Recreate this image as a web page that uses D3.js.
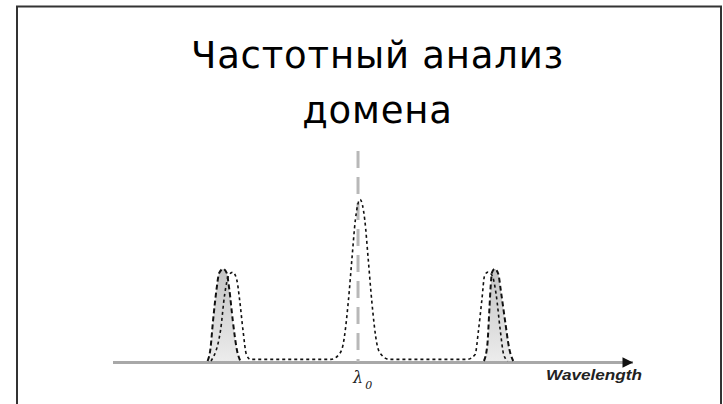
<!doctype html>
<html>
<head>
<meta charset="utf-8">
<style>
body { margin: 0; background: white; }
svg { display: block; }
</style>
<script src="https://cdnjs.cloudflare.com/ajax/libs/d3/7.8.5/d3.min.js"></script>
</head>
<body>
<div id="chart"></div>
<script>
// title lines
var titleLines = ["Частотный анализ", "домена"];
var axisLabel = "Wavelength";
var centerLabel = "λ";
var centerSub = "0";

// offset from λ0 (arb. units), relative intensity
var dottedSpectrum = [
  [-108, 0], [-101, 0.19], [-98, 0.41], [-95, 0.53], [-92, 0.55], [-89, 0.5], [-87, 0.38],
  [-84.5, 0.19], [-82, 0.04], [-79, 0.01],
  [-20, 0.01], [-14, 0.04], [-11, 0.1], [-7, 0.38], [-4.5, 0.63], [-2, 0.87], [1.5, 1.0],
  [5, 0.87], [7.5, 0.63], [10, 0.38], [14, 0.1], [17, 0.04], [23, 0.01],
  [80, 0.01], [86, 0.04], [88.5, 0.19], [91, 0.38], [93, 0.53], [95.5, 0.55], [98.5, 0.53],
  [101.5, 0.41], [104.5, 0.19], [107, 0.04], [110, 0]
];
var leftPeak = [
  [-110.5, 0], [-108.5, 0.07], [-106.5, 0.25], [-104, 0.44], [-102, 0.545], [-99, 0.57],
  [-96.5, 0.545], [-94.5, 0.44], [-92, 0.25], [-89, 0.07], [-86.5, 0]
];
var rightPeak = [
  [92.5, 0], [95, 0.1], [96.5, 0.32], [97.5, 0.47], [98.5, 0.55], [100.5, 0.57],
  [103, 0.54], [105, 0.43], [108, 0.25], [111, 0.08], [114, 0]
];
var xDomain = [-180, 202];
var yDomain = [0, 1.3];

var width = 723, height = 404;

var svg = d3.select("#chart").append("svg")
  .attr("width", width)
  .attr("height", height);

var defs = svg.append("defs");
var grad = defs.append("linearGradient")
  .attr("id", "peakFill")
  .attr("x1", 0).attr("y1", 0).attr("x2", 0).attr("y2", 1);
grad.append("stop").attr("offset", "0%").attr("stop-color", "#c4c4c4");
grad.append("stop").attr("offset", "100%").attr("stop-color", "#ececec");

defs.append("marker")
  .attr("id", "arrow")
  .attr("viewBox", "0 0 10 10")
  .attr("refX", 10).attr("refY", 5)
  .attr("markerWidth", 5).attr("markerHeight", 3.5)
  .attr("orient", "auto")
  .attr("markerUnits", "strokeWidth")
  .append("path")
  .attr("d", "M0,0 L10,5 L0,10 Z")
  .attr("fill", "#111");

// frame of the slide
svg.append("rect")
  .attr("x", 17).attr("y", 6.5)
  .attr("width", 704).attr("height", 420)
  .attr("fill", "none")
  .attr("stroke", "#333")
  .attr("stroke-width", 2);

// title
svg.selectAll(".title")
  .data(titleLines)
  .enter()
  .append("text")
  .attr("class", "title")
  .attr("x", 377.5)
  .attr("y", function (d, i) { return 68 + i * 55; })
  .attr("text-anchor", "middle")
  .attr("font-family", "DejaVu Sans, sans-serif")
  .attr("font-size", 37)
  .attr("letter-spacing", 0.8)
  .attr("fill", "black")
  .text(function (d) { return d; });

var x = d3.scaleLinear().domain(xDomain).range([113, 633]);
var y = d3.scaleLinear().domain(yDomain).range([361, 151]);

// wavelength axis
svg.append("line")
  .attr("x1", x(xDomain[0])).attr("x2", x(xDomain[1]))
  .attr("y1", y(0) + 1.5).attr("y2", y(0) + 1.5)
  .attr("stroke", "#a8a8a8")
  .attr("stroke-width", 3)
  .attr("marker-end", "url(#arrow)");

// lambda0 marker
svg.append("line")
  .attr("x1", x(0)).attr("x2", x(0))
  .attr("y1", y(yDomain[1])).attr("y2", y(0) + 1)
  .attr("stroke", "#b8b8b8")
  .attr("stroke-width", 3)
  .attr("stroke-dasharray", "17,9");

var line = d3.line()
  .x(function (d) { return x(d[0]); })
  .y(function (d) { return y(d[1]); })
  .curve(d3.curveMonotoneX);

var area = d3.area()
  .x(function (d) { return x(d[0]); })
  .y0(y(0))
  .y1(function (d) { return y(d[1]); })
  .curve(d3.curveMonotoneX);

[leftPeak, rightPeak].forEach(function (pk) {
  svg.append("path")
    .datum(pk)
    .attr("d", area)
    .attr("fill", "url(#peakFill)");
  svg.append("path")
    .datum(pk)
    .attr("d", line)
    .attr("fill", "none")
    .attr("stroke", "#111")
    .attr("stroke-width", 2)
    .attr("stroke-dasharray", "5,3");
});

svg.append("path")
  .datum(dottedSpectrum)
  .attr("d", line)
  .attr("fill", "none")
  .attr("stroke", "#111")
  .attr("stroke-width", 1.6)
  .attr("stroke-dasharray", "3,3");

// labels
var lam = svg.append("text")
  .attr("x", x(0) - 5)
  .attr("y", 383)
  .attr("font-family", "DejaVu Serif, serif")
  .attr("font-style", "italic")
  .attr("font-size", 16)
  .attr("fill", "#222");
lam.append("tspan").text(centerLabel);
lam.append("tspan").attr("dy", 6).attr("dx", 2).attr("font-size", 11).text(centerSub);

svg.append("text")
  .attr("x", 546)
  .attr("y", 380)
  .attr("font-family", "Liberation Sans, Arial, sans-serif")
  .attr("font-style", "italic")
  .attr("font-weight", "bold")
  .attr("font-size", 15.5)
  .attr("textLength", 96)
  .attr("lengthAdjust", "spacingAndGlyphs")
  .attr("fill", "#222")
  .text(axisLabel);
</script>
</body>
</html>
